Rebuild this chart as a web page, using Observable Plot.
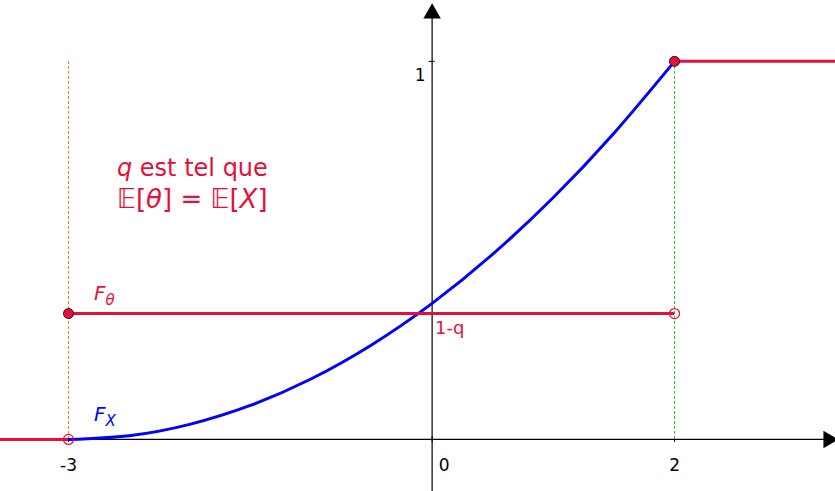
<!DOCTYPE html>
<html>
<head>
<meta charset="utf-8">
<script src="https://cdn.jsdelivr.net/npm/d3@7"></script>
<script src="https://cdn.jsdelivr.net/npm/@observablehq/plot@0.6"></script>
<style>
  html, body { margin: 0; padding: 0; background: #fff; }
  svg text { font-family: "DejaVu Sans", sans-serif; }
</style>
</head>
<body>
<div id="chart"></div>
<script>
// Distribution function of X (sampled) and the two-point distribution of theta
const xSamples = [-3, -2.5, -2, -1.5, -1, -0.5, 0, 0.5, 1, 1.5, 2];
const fxValues = [0, 0.01, 0.04, 0.09, 0.16, 0.25, 0.36, 0.49, 0.64, 0.81, 1];
const thetaAtoms = [-3, 2];           // support of theta
const thetaLevels = [0, 0.333, 1];    // F_theta before, between and after the atoms
const xTicks = [-3, 0, 2];
const xTickLabels = ["-3", "0", "2"];
const yTicks = [1];
const yTickLabels = ["1"];

const red = "#e3103e";
const blue = "#0000ff";
const xDomain = [-3.561, 3.328];
const yDomain = [-0.1376, 1.161];

const fx = xSamples.map((x, i) => ({x, y: fxValues[i]}));
const oneMinusQ = thetaLevels[1];
const steps = [
  {x1: xDomain[0], x2: thetaAtoms[0], y: thetaLevels[0]},
  {x1: thetaAtoms[0], x2: thetaAtoms[1], y: thetaLevels[1]},
  {x1: thetaAtoms[1], x2: xDomain[1], y: thetaLevels[2]}
];
const closedDots = [{x: thetaAtoms[0], y: thetaLevels[1]}, {x: thetaAtoms[1], y: thetaLevels[2]}];
const openDots = [{x: thetaAtoms[0], y: thetaLevels[0]}, {x: thetaAtoms[1], y: thetaLevels[1]}];

// the origin label sits to the right of the vertical axis
const xLabelData = xTicks.map((x, i) => ({x, label: xTickLabels[i], origin: x === 0}));

const chart = Plot.plot({
  width: 835,
  height: 491,
  margin: 0,
  x: {domain: xDomain, axis: null},
  y: {domain: yDomain, axis: null},
  marks: [
    // axes
    Plot.ruleY([0], {x1: xDomain[0], x2: 3.26, stroke: "black", strokeWidth: 1.2}),
    Plot.ruleX([0], {y1: yDomain[0], y2: 1.12, stroke: "black", strokeWidth: 1.2}),
    Plot.dot([{x: 3.27, y: 0}], {x: "x", y: "y", symbol: "triangle", r: 6.5, rotate: 90, fill: "black", stroke: "none"}),
    Plot.dot([{x: 0, y: 1.127}], {x: "x", y: "y", symbol: "triangle", r: 6.5, fill: "black", stroke: "none"}),
    // tick marks
    Plot.ruleX(xTicks, {y1: 0, y2: 0, insetTop: -3, insetBottom: -3, stroke: "black"}),
    Plot.ruleY(yTicks.concat([oneMinusQ]), {x1: 0, x2: 0, insetLeft: -3, insetRight: -3, stroke: "black"}),
    // dashed guides at the atoms of theta
    Plot.ruleX([thetaAtoms[0]], {y1: 0, y2: 1, stroke: "#ff7f2a", strokeWidth: 1, strokeDasharray: "3,2"}),
    Plot.ruleX([thetaAtoms[1]], {y1: 0, y2: 1, stroke: "#3cb43c", strokeWidth: 1, strokeDasharray: "3,2"}),
    // F_X
    Plot.line(fx, {x: "x", y: "y", curve: "natural", stroke: blue, strokeWidth: 3}),
    // F_theta
    Plot.ruleY(steps, {x1: "x1", x2: "x2", y: "y", stroke: red, strokeWidth: 3}),
    Plot.dot(openDots, {x: "x", y: "y", r: 5, stroke: red, fill: "none", strokeWidth: 1.2}),
    Plot.dot(closedDots, {x: "x", y: "y", r: 5, fill: red, stroke: "#3a0a14", strokeWidth: 1}),
    // tick labels
    Plot.text(xLabelData.filter((d) => !d.origin), {
      x: "x", y: 0, text: "label", dy: 26, fontSize: 17, fill: "black"
    }),
    Plot.text(xLabelData.filter((d) => d.origin), {
      x: "x", y: 0, text: "label", dx: 12, dy: 26, fontSize: 17, fill: "black"
    }),
    Plot.text(yTicks.map((y, i) => ({y, label: yTickLabels[i]})), {
      x: 0, y: "y", text: "label", dx: -12, dy: 14, fontSize: 17, fill: "black"
    }),
    Plot.text([{x: 0, y: oneMinusQ}], {
      x: "x", y: "y", text: () => "1-q", textAnchor: "start", dx: 3, dy: 15, fontSize: 18, fill: red
    }),
    // curve labels
    Plot.text([{x: -2.79, y: 0.37}], {x: "x", y: "y", text: () => "Fθ", textAnchor: "start", lineAnchor: "bottom", fontSize: 20, fill: red}),
    Plot.text([{x: -2.79, y: 0.05}], {x: "x", y: "y", text: () => "FX", textAnchor: "start", lineAnchor: "bottom", fontSize: 20, fill: blue}),
    // annotation
    Plot.text([{x: -2.6, y: 0.697}], {x: "x", y: "y", text: () => "q est tel que", textAnchor: "start", lineAnchor: "bottom", fontSize: 24, fill: red}),
    Plot.text([{x: -2.6, y: 0.612}], {x: "x", y: "y", text: () => "𝔼[θ] = 𝔼[X]", textAnchor: "start", lineAnchor: "bottom", fontSize: 26, fill: red})
  ]
});

document.getElementById("chart").appendChild(chart);

// Typeset the italic symbols and subscripts inside the labels
const svg = d3.select(chart);
svg.selectAll("text").each(function () {
  const t = d3.select(this);
  const s = this.textContent;
  if (s === "Fθ" || s === "FX") {
    t.text(null);
    t.append("tspan").attr("font-style", "italic").text("F");
    t.append("tspan").attr("font-style", "italic").attr("font-size", 15).attr("dy", 5).text(s.slice(1));
  } else if (s === "q est tel que") {
    t.text(null);
    t.append("tspan").attr("font-style", "italic").text("q");
    t.append("tspan").text(" est tel que");
  } else if (s === "𝔼[θ] = 𝔼[X]") {
    t.text(null);
    t.append("tspan").text("𝔼[");
    t.append("tspan").attr("font-style", "italic").text("θ");
    t.append("tspan").text("] = 𝔼[");
    t.append("tspan").attr("font-style", "italic").text("X");
    t.append("tspan").text("]");
  }
});
</script>
</body>
</html>
